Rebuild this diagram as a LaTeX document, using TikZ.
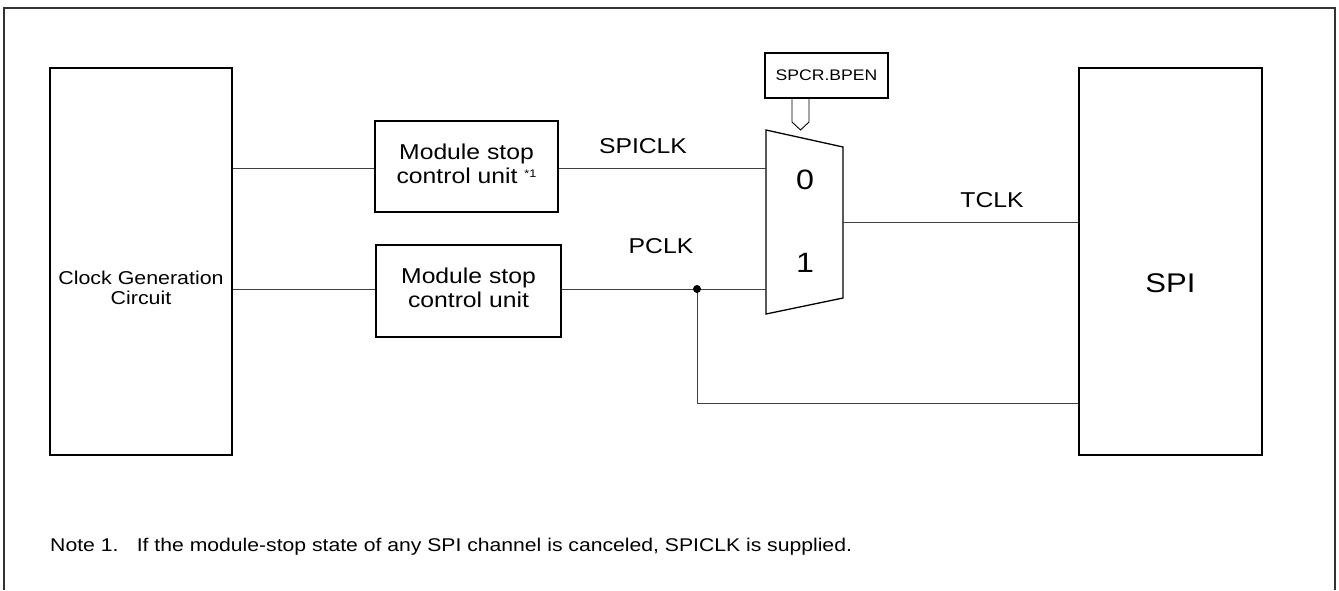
\documentclass[tikz,border=0pt]{standalone}
\usepackage{fontspec}
\setmainfont{Liberation Sans}
\usetikzlibrary{positioning}

\begin{document}
\begin{tikzpicture}[x=1pt,y=-1pt]
\tikzstyle{blk}=[draw=black,line width=1.3pt,inner sep=0pt]
\tikzstyle{lbl}=[inner sep=0pt,xscale=1.15,transform shape,align=center]
\tikzstyle{wire}=[line width=1pt,draw=black!75]
\useasboundingbox (0,0) rectangle (1339,590);
% outer frame, open at the bottom
\draw[line width=1.3pt,black!80] (4,590) -- (4,8) -- (1335,8) -- (1335,590);
% blocks
\node[blk,minimum width=182pt,minimum height=387pt] (cgc) at (141,261.5) {};
\node[lbl,font=\fontsize{18.6}{20.5}\selectfont] (cgct) at (141,288) {Clock Generation\\Circuit};
\node[blk,minimum width=183pt,minimum height=387pt] (spi) at (1170.5,261.5) {};
\node[lbl,font=\fontsize{27}{30}\selectfont] (spit) at (1170.5,283) {SPI};
\node[blk,minimum width=183pt,minimum height=91pt] (ms1) at (466.5,166.5) {};
\node[lbl,font=\fontsize{21.5}{24}\selectfont] (ms1t) at (466.5,164) {Module stop\\control unit {\fontsize{11}{11}\selectfont\raisebox{6pt}{*1}}};
\node[blk,minimum width=185pt,minimum height=92pt] (ms2) at (468.5,291) {};
\node[lbl,font=\fontsize{21.5}{24}\selectfont] (ms2t) at (468.5,288) {Module stop\\control unit};
\node[blk,minimum width=123pt,minimum height=45pt] (bpen) at (826.5,75.5) {};
\node[lbl,font=\fontsize{15.3}{17}\selectfont] (bpent) at (826.5,75.5) {SPCR.BPEN};
% selector
\coordinate (in0) at (766,168);
\coordinate (in1) at (766,289);
\coordinate (out) at (843,222);
\coordinate (dot) at (697,289);
\coordinate (br) at (697,403);
\draw[line width=1.3pt] (766,130) -- (843,147) -- (843,298) -- (766,314) -- cycle;
\node[lbl,font=\fontsize{28}{30}\selectfont] (sel0) at (805,180) {0};
\node[lbl,font=\fontsize{28}{30}\selectfont] (sel1) at (805,263) {1};
\draw[line width=0.9pt] (792,98) -- (792,122) -- (800.5,130) -- (809,122) -- (809,98);
% wires
\draw[wire] (cgc.east |- in0) -- (ms1.west |- in0);
\draw[wire] (ms1.east |- in0) -- (in0);
\draw[wire] (cgc.east |- in1) -- (ms2.west |- in1);
\draw[wire] (ms2.east |- in1) -- (in1);
\draw[wire] (out) -- (spi.west |- out);
\draw[wire] (dot) -- (br) -- (spi.west |- br);
\fill (dot) circle (4pt);
% signal names
\node[lbl,font=\fontsize{21.5}{24}\selectfont] (spiclk) at (643,146) {SPICLK};
\node[lbl,font=\fontsize{21.5}{24}\selectfont] (pclk) at (661,246) {PCLK};
\node[lbl,font=\fontsize{21.5}{24}\selectfont] (tclk) at (992,200) {TCLK};
% note
\node[lbl,anchor=west,font=\fontsize{18.4}{20}\selectfont] (note) at (50,547) {Note 1.\hspace{16pt}If the module-stop state of any SPI channel is canceled, SPICLK is supplied.};
\end{tikzpicture}
\end{document}
